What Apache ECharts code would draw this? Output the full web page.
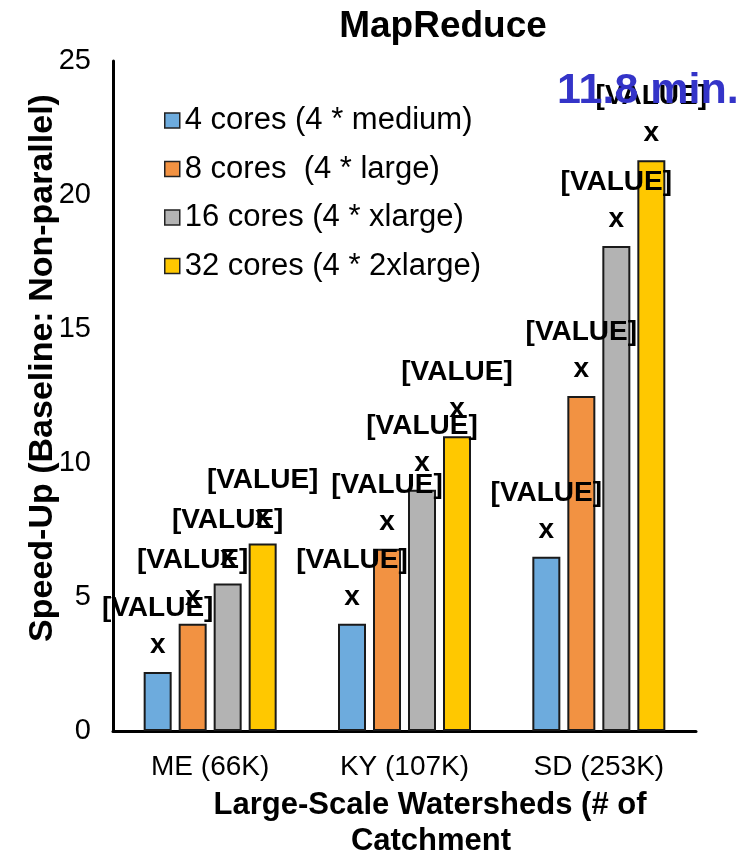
<!DOCTYPE html>
<html>
<head>
<meta charset="utf-8">
<script src="https://cdn.jsdelivr.net/npm/echarts@6/dist/echarts.min.js"></script>
<style>
  html, body { margin: 0; padding: 0; background: #fff; }
  #chart { width: 748px; height: 855px; }
</style>
</head>
<body>
<div id="chart"></div>
<script>
// Watershed datasets (number of catchments)
const categories = ['ME (66K)', 'KY (107K)', 'SD (253K)'];

// Cluster configurations
const seriesNames = [
  '4 cores (4 * medium)',
  '8 cores  (4 * large)',
  '16 cores (4 * xlarge)',
  '32 cores (4 * 2xlarge)'
];

// Speed-up relative to the non-parallel baseline
const cores4 = [2.2, 4.0, 6.5];
const cores8 = [4.0, 6.8, 12.5];
const cores16 = [5.5, 9.0, 18.1];
const cores32 = [7.0, 11.0, 21.3];

const yTicks = [0, 5, 10, 15, 20, 25];

const colors = ['#6DABDD', '#F29242', '#B3B3B3', '#FFC800'];
const seriesValues = [cores4, cores8, cores16, cores32];

const FONT = 'Liberation Sans, Arial, Helvetica, sans-serif';

const chart = echarts.init(document.getElementById('chart'), null, { renderer: 'canvas' });

const series = seriesValues.map((vals, i) => ({
  name: seriesNames[i],
  type: 'bar',
  data: vals,
  barWidth: 28,
  barGap: '25%',
  itemStyle: {
    color: colors[i],
    borderColor: '#1a1a1a',
    borderWidth: 2
  },
  label: {
    show: true,
    position: 'top',
    distance: 8,
    formatter: '[VALUE]\nx',
    fontFamily: FONT,
    fontSize: 28,
    fontWeight: 'bold',
    lineHeight: 37,
    color: '#000'
  },
  z: 2
}));

chart.setOption({
  animation: false,
  backgroundColor: '#fff',
  title: {
    text: 'MapReduce',
    left: 438,
    top: 3,
    textAlign: 'center',
    textStyle: {
      fontFamily: FONT,
      fontSize: 37,
      fontWeight: 'bold',
      color: '#000'
    }
  },
  legend: {
    orient: 'vertical',
    left: 159,
    top: 100,
    itemWidth: 15,
    itemHeight: 15,
    itemGap: 17.5,
    icon: 'rect',
    data: seriesNames,
    itemStyle: { borderColor: '#222', borderWidth: 1.5 },
    textStyle: {
      fontFamily: FONT,
      fontSize: 31,
      lineHeight: 31,
      color: '#000'
    }
  },
  grid: {
    left: 113,
    right: 52,
    top: 61,
    bottom: 124,
    containLabel: false
  },
  xAxis: {
    type: 'category',
    data: categories,
    axisLine: { show: true, lineStyle: { color: '#000', width: 3 } },
    axisTick: { show: false },
    axisLabel: {
      fontFamily: FONT,
      fontSize: 28,
      color: '#000',
      margin: 22
    }
  },
  yAxis: {
    type: 'value',
    min: yTicks[0],
    max: yTicks[yTicks.length - 1],
    interval: yTicks[1] - yTicks[0],
    splitLine: { show: false },
    axisLine: { show: true, lineStyle: { color: '#000', width: 3 } },
    axisTick: { show: false },
    axisLabel: {
      fontFamily: FONT,
      fontSize: 29,
      color: '#000',
      margin: 22
    }
  },
  series: series,
  graphic: [
    {
      type: 'text',
      left: 557,
      top: 70,
      z: 100,
      style: {
        text: '11.8 min.',
        fontFamily: FONT,
        fontSize: 43,
        fontWeight: 'bold',
        fill: '#3434C8'
      }
    },
    {
      type: 'text',
      x: 43,
      y: 368,
      rotation: Math.PI / 2,
      style: {
        text: 'Speed-Up (Baseline: Non-parallel)',
        fontFamily: FONT,
        fontSize: 34,
        fontWeight: 'bold',
        fill: '#000',
        textAlign: 'center',
        textVerticalAlign: 'middle'
      }
    },
    {
      type: 'text',
      x: 430,
      y: 805,
      style: {
        text: 'Large-Scale Watersheds (# of',
        fontFamily: FONT,
        fontSize: 31,
        fontWeight: 'bold',
        fill: '#000',
        textAlign: 'center',
        textVerticalAlign: 'middle'
      }
    },
    {
      type: 'text',
      x: 431,
      y: 841,
      style: {
        text: 'Catchment',
        fontFamily: FONT,
        fontSize: 31,
        fontWeight: 'bold',
        fill: '#000',
        textAlign: 'center',
        textVerticalAlign: 'middle'
      }
    }
  ]
});
</script>
</body>
</html>
